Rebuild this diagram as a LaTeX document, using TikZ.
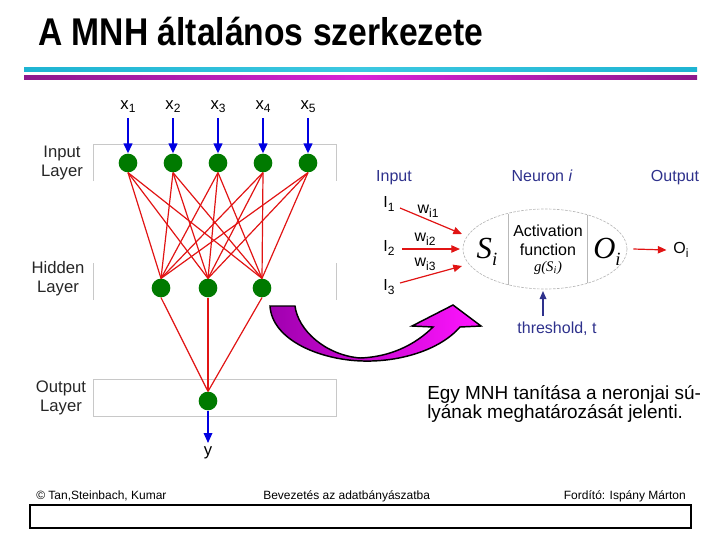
\documentclass[tikz,border=0pt]{standalone}
\usepackage{fontspec}
\setmainfont{Liberation Sans}
\newfontfamily\timesf{Liberation Serif}
\usetikzlibrary{arrows.meta,shapes.geometric}
\definecolor{netgreen}{RGB}{0,122,0}
\definecolor{netred}{RGB}{225,20,20}
\definecolor{netblue}{RGB}{0,0,225}
\definecolor{navyc}{RGB}{46,49,140}
\definecolor{layergray}{RGB}{200,200,200}
\definecolor{cyanline}{RGB}{30,180,210}
\definecolor{cyanmid}{RGB}{60,200,225}
\definecolor{magedge}{RGB}{140,25,140}
\definecolor{magmid}{RGB}{215,35,215}
\definecolor{arrowdark}{RGB}{160,0,175}
\definecolor{arrowlight}{RGB}{255,20,255}
\newcommand{\lowsub}[1]{\raisebox{-0.45ex}{\fontsize{9}{9}\selectfont #1}}
\begin{document}
\begin{tikzpicture}[x=0.75pt,y=-0.75pt,
  neuron/.style={circle, fill=netgreen, minimum size=14pt, inner sep=0pt},
  netline/.style={draw=netred, line width=0.9pt},
  inarrow/.style={draw=netblue, line width=1.5pt, -{Triangle[width=6.5pt,length=7.5pt]}},
  layerlbl/.style={align=center, font=\fontsize{12.5}{14.3}\selectfont, text=black!85, inner sep=0pt},
  layerbox/.style={draw=layergray, line width=0.7pt},
  xlbl/.style={font=\fontsize{12.5}{14}\selectfont, inner sep=0pt},
  navytext/.style={text=navyc, font=\fontsize{12}{14}\selectfont, inner sep=0pt, anchor=base},
  paneltext/.style={font=\fontsize{12}{14}\selectfont, inner sep=0pt},
  redarrow/.style={draw=netred, line width=0.9pt, -{Triangle[width=5.5pt,length=6.5pt]}},
  navyarrow/.style={draw=navyc, line width=0.9pt, -{Triangle[width=5pt,length=6pt]}},
  bigit/.style={font=\timesf\itshape\fontsize{23}{24}\selectfont, inner sep=0pt},
  foot/.style={font=\fontsize{9}{11}\selectfont, inner sep=0pt, anchor=base west},
  para/.style={font=\fontsize{14.2}{16}\selectfont, inner sep=0pt, anchor=base west}
]
\useasboundingbox (0,0) rectangle (720,540);

% title
\node[anchor=base west, inner sep=0pt] (title) at (38,45)
  {\fontsize{29}{32}\selectfont\bfseries\scalebox{0.87}[1]{A MNH általános szerkezete}};
\shade[left color=cyanline, right color=cyanline, middle color=cyanmid] (24,67) rectangle (697,71.5);
\shade[left color=magedge, right color=magedge, middle color=magmid] (24,75.5) rectangle (697,79.5);

% layer boxes
\draw[layerbox] (93,181) -- (93,144) -- (336,144) -- (336,181);
\draw[layerbox] (93,263) -- (93,300);
\draw[layerbox] (336,263) -- (336,300);
\draw[layerbox] (93,379) rectangle (336,416);

% layer labels
\node[layerlbl] (linput) at (62,163) {Input\\Layer};
\node[layerlbl] (lhidden) at (58,279) {Hidden\\Layer};
\node[layerlbl] (loutput) at (61,398) {Output\\Layer};

% neurons
\foreach \n/\x in {1/128,2/173,3/218,4/263,5/308} {
  \node[neuron] (i\n) at (\x,163) {};
  \node[xlbl, anchor=base] (xl\n) at (\x,109) {x\lowsub{\n}};
  \coordinate (xa\n) at (\x,118);
}
\node[neuron] (h1) at (161,288) {};
\node[neuron] (h2) at (208,288) {};
\node[neuron] (h3) at (262,288) {};
\node[neuron] (o) at (208,401) {};

% connections
\foreach \i in {1,...,5} {
  \foreach \h in {1,2,3} {
    \draw[netline] (i\i.south) -- (h\h.north);
  }
  \draw[inarrow] (xa\i) -- (i\i.north);
}
\foreach \h in {1,2,3} {
  \draw[netline] (h\h.south) -- (o.north);
}
\coordinate (yend) at (208,443);
\draw[draw=netblue, line width=0.9pt, -{Triangle[width=6.5pt,length=7.5pt]}] (o.south) -- (yend);
\node[xlbl] (ylbl) at (208,453) {y};

% magenta curved arrow
\shade[left color=arrowdark, right color=arrowlight, draw=black, line width=1.1pt, line join=miter]
  (270,306) -- (295,306) .. controls (298,330) and (325,355) .. (360,358)
  .. controls (390,357) and (415,345) .. (433,327) -- (412,326) -- (453,305)
  -- (481,326) -- (460,327) .. controls (440,350) and (400,362) .. (363,361)
  .. controls (320,360) and (272,340) .. (270,306) -- cycle;

% right panel: single neuron
\node[navytext] (tin) at (394,181) {Input};
\node[navytext] (tneu) at (542,181) {Neuron \textit{i}};
\node[navytext] (tout) at (675,181) {Output};

\node[paneltext] (I1) at (389,204) {I\lowsub{1}};
\node[paneltext] (I2) at (389,248) {I\lowsub{2}};
\node[paneltext] (I3) at (389,287) {I\lowsub{3}};
\node[paneltext] (w1) at (428,211) {w\lowsub{i1}};
\node[paneltext] (w2) at (425,239) {w\lowsub{i2}};
\node[paneltext] (w3) at (425,264) {w\lowsub{i3}};

\node[ellipse, draw=gray!55, dash pattern=on 2pt off 1pt, line width=0.5pt,
  minimum width=123pt, minimum height=60pt, inner sep=0pt] (neur) at (545,249) {};
\draw[draw=gray!55, line width=0.5pt] (508,213.5) -- (508,284.5);
\draw[draw=gray!55, line width=0.5pt] (587,215) -- (587,283);

\coordinate (a1s) at (400,208);
\coordinate (a1e) at (462,234);
\coordinate (a2s) at (402,249);
\coordinate (a2e) at (460,249);
\coordinate (a3s) at (400,283);
\coordinate (a3e) at (462,266);
\draw[redarrow] (a1s) -- (a1e);
\draw[redarrow] (a2s) -- (a2e);
\draw[redarrow] (a3s) -- (a3e);

\node[bigit] (Si) at (487,252) {S\raisebox{-0.5ex}{\fontsize{14}{14}\selectfont i}};
\node[bigit] (Oi) at (607,252) {O\raisebox{-0.5ex}{\fontsize{14}{14}\selectfont i}};
\node[paneltext, align=center, font=\fontsize{12}{14.3}\selectfont] (act) at (548,240) {Activation\\function};
\node[inner sep=0pt, font=\timesf\itshape\fontsize{11}{13}\selectfont] (g) at (548,268) {g(S\textsubscript{i})};

\node[paneltext] (Oout) at (681,250) {O\lowsub{i}};
\draw[redarrow] ([xshift=4.5pt]neur.east) -- ([xshift=-5pt]Oout.west);

\node[navytext] (thr) at (557,333) {threshold, t};
\coordinate (ts) at (543,316);
\coordinate (te) at (543,291);
\draw[navyarrow] (ts) -- (te);

% paragraph
\node[para] (p1) at (427,399) {Egy MNH tanítása a neronjai sú-};
\node[para] (p2) at (427,418) {lyának meghatározását jelenti.};

% footer
\node[foot] (f1) at (36,499) {© Tan,Steinbach, Kumar};
\node[foot] (f2) at (263,499) {Bevezetés az adatbányászatba};
\node[foot, anchor=base east] (f3) at (686,499) {Fordító: Ispány Márton};
\draw[black, line width=1.5pt] (29.5,505) rectangle (690.5,528);
\end{tikzpicture}
\end{document}
